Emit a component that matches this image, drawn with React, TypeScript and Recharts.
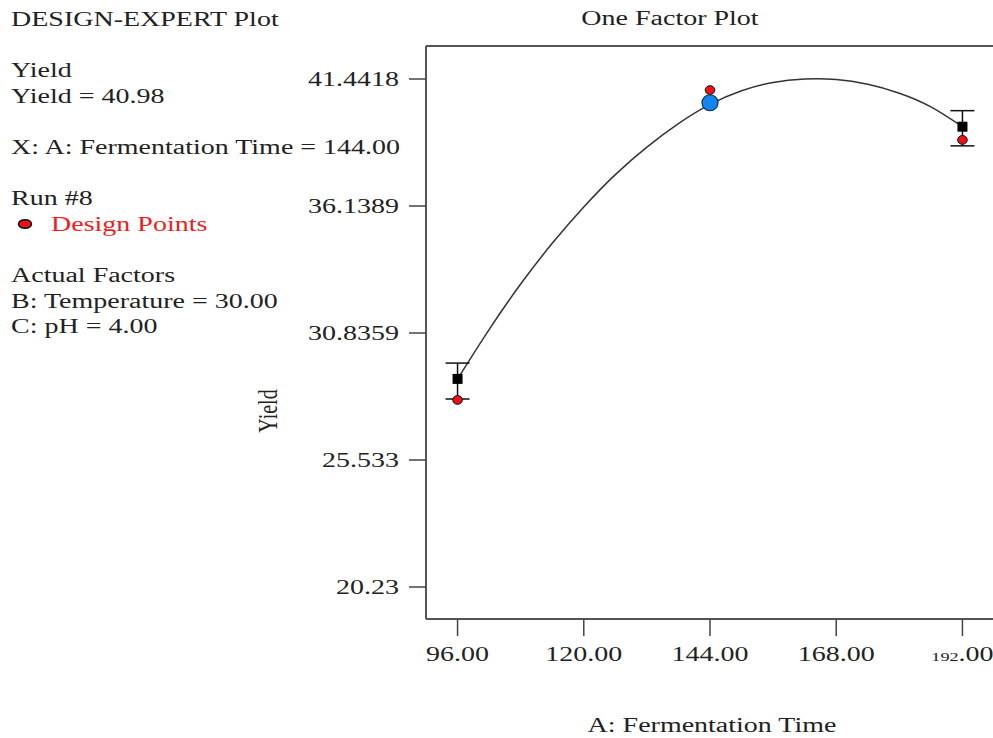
import {
  ComposedChart,
  Line,
  Scatter,
  ErrorBar,
  XAxis,
  YAxis,
  ReferenceLine,
} from 'recharts';

// factor levels & fitted curve
const xTicks = [96, 120, 144, 168, 192];
const yTicks = [20.23, 25.533, 30.8359, 36.1389, 41.4418];
const xDomain = [90, 198];
const yDomain = [18.894, 42.82];

const curveTime = [96, 102, 108, 114, 120, 126, 132, 138, 144, 150, 156, 162, 168, 174, 180, 186, 192];
const curveYield = [28.92, 30.98, 32.88, 34.58, 36.1, 37.45, 38.6, 39.58, 40.38, 40.95, 41.3, 41.44, 41.42, 41.22, 40.85, 40.28, 39.45];

const predTime = [96, 192];
const predYield = [28.92, 39.45];
const errLow = [0.84, 0.8];
const errHigh = [0.66, 0.67];

const designTime = [96, 144, 192];
const designYield = [28.04, 40.98, 38.9];

const currentTime = [144];
const currentYield = [40.45];

const curveData = curveTime.map((x, i) => ({ x, y: curveYield[i] }));
const predData = predTime.map((x, i) => ({ x, y: predYield[i], err: [errLow[i], errHigh[i]] }));
const designData = designTime.map((x, i) => ({ x, y: designYield[i] }));
const currentData = currentTime.map((x, i) => ({ x, y: currentYield[i] }));

const FONT = '"Liberation Serif", "Times New Roman", serif';
const STRETCH = 1.4;
const INK = '#222';

function SText({ x, y, anchor = 'start', fill = INK, size = 20, children }: any) {
  return (
    <g transform={`translate(${x},${y}) scale(${STRETCH},1)`}>
      <text textAnchor={anchor} fontFamily={FONT} fontSize={size} fill={fill}>
        {children}
      </text>
    </g>
  );
}

function XTick({ x, y, payload }: any) {
  const v: number = payload.value;
  const last = v === xTicks[xTicks.length - 1];
  const [whole, frac] = v.toFixed(2).split('.');
  return (
    <g transform={`translate(${x},${y}) scale(${STRETCH},1)`}>
      <text textAnchor="middle" dy="0.71em" fontFamily={FONT} fontSize={20} fill={INK}>
        {last ? (
          <>
            <tspan fontSize={13}>{whole}</tspan>
            <tspan>.{frac}</tspan>
          </>
        ) : (
          `${whole}.${frac}`
        )}
      </text>
    </g>
  );
}

function YTick({ x, y, payload }: any) {
  return (
    <g transform={`translate(${x},${y}) scale(${STRETCH},1)`}>
      <text textAnchor="end" dy="0.355em" fontFamily={FONT} fontSize={20} fill={INK}>
        {String(payload.value)}
      </text>
    </g>
  );
}

const square = (p: any) => (
  <rect x={p.cx - 5} y={p.cy - 5} width={10} height={10} fill="#000" />
);
const redDot = (p: any) => (
  <ellipse cx={p.cx} cy={p.cy} rx={4.8} ry={4.4} fill="#e8141a" stroke="#111" strokeWidth={1} />
);
const blueDot = (p: any) => (
  <circle cx={p.cx} cy={p.cy} r={8} fill="#1485ee" stroke="#0b2b55" strokeWidth={1.2} />
);

export default function App() {
  return (
    <div
      style={{
        position: 'fixed',
        left: 0,
        top: 0,
        width: 993,
        height: 738,
        overflow: 'hidden',
        background: '#fff',
      }}
    >
      <ComposedChart width={1000} height={738} margin={{ top: 46, right: 6, bottom: 0, left: 0 }}>
        <XAxis
          dataKey="x"
          type="number"
          domain={xDomain}
          ticks={xTicks}
          allowDataOverflow
          height={119}
          tickSize={17}
          tickMargin={11}
          tick={<XTick />}
          axisLine={{ stroke: '#555', strokeWidth: 2 }}
          tickLine={{ stroke: '#444', strokeWidth: 1.5 }}
        />
        <YAxis
          dataKey="y"
          type="number"
          domain={yDomain}
          ticks={yTicks}
          allowDataOverflow
          width={426}
          tickSize={17}
          tickMargin={10}
          tick={<YTick />}
          axisLine={{ stroke: '#555', strokeWidth: 2 }}
          tickLine={{ stroke: '#444', strokeWidth: 1.5 }}
        />
        <ReferenceLine y={yDomain[1]} stroke="#555" strokeWidth={2} />
        <ReferenceLine x={xDomain[1]} stroke="#555" strokeWidth={2} />
        <Line
          data={curveData}
          dataKey="y"
          type="natural"
          stroke="#333"
          strokeWidth={1.5}
          dot={false}
          isAnimationActive={false}
        />
        <Scatter data={predData} dataKey="y" shape={square} isAnimationActive={false}>
          <ErrorBar dataKey="err" direction="y" width={12} stroke="#111" strokeWidth={1.5} />
        </Scatter>
        <Scatter data={designData} dataKey="y" shape={redDot} isAnimationActive={false} />
        <Scatter data={currentData} dataKey="y" shape={blueDot} isAnimationActive={false} />
      </ComposedChart>

      <svg
        width={993}
        height={738}
        style={{ position: 'absolute', left: 0, top: 0, pointerEvents: 'none' }}
      >
        <SText x={11} y={26}>DESIGN-EXPERT Plot</SText>
        <SText x={11} y={77}>Yield</SText>
        <SText x={11} y={103}>Yield = 40.98</SText>
        <SText x={11} y={154}>X: A: Fermentation Time = 144.00</SText>
        <SText x={11} y={205}>Run #8</SText>
        <ellipse cx={25} cy={224} rx={6.5} ry={4.3} fill="#e8141a" stroke="#111" strokeWidth={1.5} />
        <SText x={51} y={231} fill="#f01c22">Design Points</SText>
        <SText x={11} y={282}>Actual Factors</SText>
        <SText x={11} y={308}>B: Temperature = 30.00</SText>
        <SText x={11} y={333}>C: pH = 4.00</SText>

        <SText x={670} y={25} anchor="middle">One Factor Plot</SText>
        <SText x={712} y={732} anchor="middle">A: Fermentation Time</SText>
        <g transform={`translate(277,411) scale(${STRETCH},1) rotate(-90)`}>
          <text textAnchor="middle" fontFamily={FONT} fontSize={20} fill={INK}>
            Yield
          </text>
        </g>
      </svg>
    </div>
  );
}
